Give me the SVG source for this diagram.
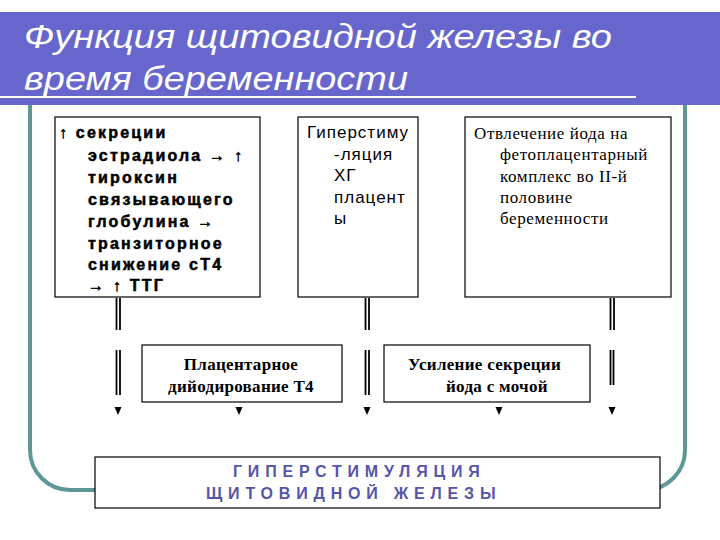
<svg xmlns="http://www.w3.org/2000/svg" width="720" height="540" viewBox="0 0 720 540">
<style>
.box{fill:#fff;stroke:#000;stroke-width:1.2}
.b1{font-family:"Liberation Sans",Arial,sans-serif;font-size:16px;font-weight:900;letter-spacing:2.2px;stroke:#000;stroke-width:0.5}
.b2{font-family:"Liberation Sans",Arial,sans-serif;font-size:17px;letter-spacing:1px}
.s{font-family:"Liberation Serif","Times New Roman",serif;font-size:17px;letter-spacing:0.6px}
.sb{font-family:"Liberation Serif","Times New Roman",serif;font-size:17px;font-weight:bold;letter-spacing:0.3px}
.ln{stroke:#000;stroke-width:1.8}
</style>
<rect width="720" height="540" fill="#fff"/>
<rect x="30" y="60" width="655" height="430" rx="40" fill="none" stroke="#5e9797" stroke-width="4"/>
<rect x="0" y="12" width="720" height="93" fill="#6666cc"/>
<line x1="0" y1="97" x2="636" y2="97" stroke="#fff" stroke-width="2"/>
<text font-family="Liberation Sans,Arial,sans-serif" font-style="italic" font-size="34" fill="#fff"><tspan x="24" y="48" textLength="588" lengthAdjust="spacingAndGlyphs">Функция щитовидной железы во</tspan><tspan x="24" y="90" textLength="384" lengthAdjust="spacingAndGlyphs">время беременности</tspan></text>
<g id="connectors">
<g class="ln">
<line x1="116.5" y1="298" x2="116.5" y2="330"/><line x1="120" y1="298" x2="120" y2="330"/>
<line x1="116.5" y1="350" x2="116.5" y2="395"/><line x1="120" y1="350" x2="120" y2="395"/>
<line x1="365.5" y1="298" x2="365.5" y2="330"/><line x1="369" y1="298" x2="369" y2="330"/>
<line x1="365.5" y1="350" x2="365.5" y2="395"/><line x1="369" y1="350" x2="369" y2="395"/>
<line x1="610.5" y1="298" x2="610.5" y2="330"/><line x1="614" y1="298" x2="614" y2="330"/>
<line x1="610.5" y1="350" x2="610.5" y2="385"/><line x1="613.5" y1="350" x2="613.5" y2="385"/>
</g>
<g fill="#000">
<path d="M114.5 407h7l-3.5 8z"/><path d="M235.5 407h7l-3.5 8z"/><path d="M363.5 407h7l-3.5 8z"/><path d="M495.5 407h7l-3.5 8z"/><path d="M608.5 407h7l-3.5 8z"/>
</g>
</g>
<g id="n1"><rect class="box" x="55" y="117" width="205" height="180"/>
<text class="b1"><tspan x="59" y="138">↑ секреции</tspan><tspan x="88" y="161">эстрадиола → ↑</tspan><tspan x="88" y="183">тироксин</tspan><tspan x="88" y="205">связывающего</tspan><tspan x="88" y="227">глобулина →</tspan><tspan x="88" y="249">транзиторное</tspan><tspan x="88" y="270">снижение сТ4</tspan><tspan x="88" y="291">→ ↑ ТТГ</tspan></text></g>
<g id="n2"><rect class="box" x="298" y="117" width="120" height="180"/>
<text class="b2"><tspan x="307" y="138">Гиперстиму</tspan><tspan x="334" y="160">-ляция</tspan><tspan x="334" y="181">ХГ</tspan><tspan x="334" y="203">плацент</tspan><tspan x="334" y="224">ы</tspan></text></g>
<g id="n3"><rect class="box" x="465" y="117" width="206" height="180"/>
<text class="s"><tspan x="474" y="139">Отвлечение йода на</tspan><tspan x="500" y="160">фетоплацентарный</tspan><tspan x="500" y="182">комплекс во II-й</tspan><tspan x="500" y="203">половине</tspan><tspan x="500" y="224">беременности</tspan></text></g>
<g id="n4"><rect class="box" x="142" y="345" width="200" height="57"/>
<text class="sb" text-anchor="middle"><tspan x="241" y="370">Плацентарное</tspan><tspan x="241" y="392">дийодирование Т4</tspan></text></g>
<g id="n5"><rect class="box" x="384" y="345" width="206" height="57"/>
<text class="sb"><tspan x="408" y="370">Усиление секреции</tspan><tspan x="446" y="392">йода с мочой</tspan></text></g>
<g id="n6"><rect class="box" x="95" y="457" width="565" height="51"/>
<text font-family="Liberation Sans,Arial,sans-serif" font-size="16" font-weight="bold" fill="#5555aa" letter-spacing="5.8"><tspan x="233" y="477">ГИПЕРСТИМУЛЯЦИЯ</tspan><tspan x="206" y="499">ЩИТОВИДНОЙ  ЖЕЛЕЗЫ</tspan></text></g>
</svg>
